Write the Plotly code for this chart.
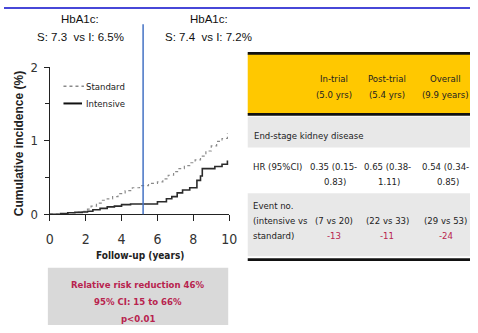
import plotly.graph_objects as go

W, H = 478, 333

# Cumulative incidence (%) of end-stage kidney disease by follow-up year
years_std = [0, 0.5, 1.0, 1.5, 1.9, 2.1, 2.3, 2.6, 2.9, 3.2, 3.5, 3.8, 4.2, 4.6, 5.0,
             5.5, 6.0, 6.3, 6.6, 6.9, 7.2, 7.5, 7.8, 8.1, 8.4, 8.7, 9.0, 9.3, 9.6, 9.9]
inc_std = [0, 0.01, 0.02, 0.03, 0.04, 0.07, 0.11, 0.15, 0.19, 0.21, 0.24, 0.28, 0.32, 0.36, 0.39,
           0.42, 0.44, 0.48, 0.53, 0.58, 0.62, 0.66, 0.70, 0.74, 0.79, 0.86, 0.93, 0.99, 1.03, 1.10]

years_int = [0, 0.6, 1.0, 1.4, 1.8, 2.1, 2.4, 2.8, 3.2, 3.6, 4.0, 4.5, 6.0, 6.5, 6.8,
             7.1, 7.4, 7.8, 8.2, 8.4, 8.5, 9.2, 9.6, 9.9]
inc_int = [0, 0.01, 0.02, 0.025, 0.03, 0.04, 0.06, 0.08, 0.10, 0.11, 0.13, 0.14, 0.17, 0.21, 0.24,
           0.29, 0.33, 0.36, 0.46, 0.52, 0.62, 0.65, 0.68, 0.73]

x_ticks = [0, 2, 4, 6, 8, 10]
y_ticks = [0, 1, 2]
in_trial_end = 5.2

hba1c_in_trial = ["HbA1c:", "S: 7.3  vs I: 6.5%"]
hba1c_post_trial = ["HbA1c:", "S: 7.4  vs I: 7.2%"]

# Summary table
col_heads = [("In-trial", "(5.0 yrs)"), ("Post-trial", "(5.4 yrs)"), ("Overall", "(9.9 years)")]
outcome = "End-stage kidney disease"
hr_label = "HR (95%CI)"
hr_values = [("0.35 (0.15-", "0.83)"), ("0.65 (0.38-", "1.11)"), ("0.54 (0.34-", "0.85)")]
event_label = ["Event no.", "(intensive vs", "standard)"]
events_intensive = [7, 22, 29]
events_standard = [20, 33, 53]

rrr_lines = ["Relative risk reduction 46%", "95% CI: 15 to 66%", "p<0.01"]

NARROW = "DejaVu Sans Condensed, Liberation Sans Narrow, sans-serif"
REGULAR = "Liberation Sans, Arial, sans-serif"
RED = "#b8234e"


def px(x):
    return x / W


def py(y):
    return 1 - y / H


fig = go.Figure()
fig.add_trace(go.Scatter(x=years_std, y=inc_std, mode="lines", line_shape="hv",
                         line=dict(color="#8a8a8a", width=1.2, dash="dot"),
                         name="Standard", showlegend=False))
fig.add_trace(go.Scatter(x=years_int, y=inc_int, mode="lines", line_shape="hv",
                         line=dict(color="#2b2b2b", width=1.6),
                         name="Intensive", showlegend=False))

shapes = []
ann = []


def text(x, y, s, size=9.5, color="#222", family=NARROW, xanchor="center", **kw):
    ann.append(dict(x=px(x), y=py(y), xref="paper", yref="paper", text=s, showarrow=False,
                    xanchor=xanchor, yanchor="middle",
                    font=dict(size=size, color=color, family=family), **kw))


def rect(x0, y0, x1, y1, color):
    shapes.append(dict(type="rect", xref="paper", yref="paper", x0=px(x0), x1=px(x1),
                       y0=py(y1), y1=py(y0), fillcolor=color, line=dict(width=0), layer="below"))


# top rule
rect(0, 0, W, 2, "#4747d8")

# HbA1c annotations
text(78, 13, hba1c_in_trial[0], size=11.5, color="#111", family=REGULAR)
text(78, 31, hba1c_in_trial[1], size=11.5, color="#111", family=REGULAR)
text(210, 13, hba1c_post_trial[0], size=11.5, color="#111", family=REGULAR)
text(210, 31, hba1c_post_trial[1], size=11.5, color="#111", family=REGULAR)

# in-trial / post-trial boundary
shapes.append(dict(type="line", xref="x", yref="paper", x0=in_trial_end, x1=in_trial_end,
                   y0=py(217), y1=py(18), line=dict(color="#4472c4", width=1.5)))

# legend
shapes.append(dict(type="line", xref="paper", yref="paper", x0=px(61), x1=px(82),
                   y0=py(83), y1=py(83), line=dict(color="#8a8a8a", width=1.5, dash="dot")))
shapes.append(dict(type="line", xref="paper", yref="paper", x0=px(61), x1=px(80),
                   y0=py(101), y1=py(101), line=dict(color="#111", width=2)))
text(82, 83, "Standard", size=9.5, xanchor="left")
text(82, 101, "Intensive", size=9.5, xanchor="left")

# axis titles
text(15, 143, "<b>Cumulative incidence (%)</b>", size=12, family=REGULAR, textangle=-90)
text(139, 260, "<b>Follow-up (years)</b>", size=10)

# table
rect(250, 49, W, 112, "#ffc800")
rect(250, 47, W, 50, "#111")
rect(250, 111, W, 114, "#111")
rect(250, 115, W, 147, "#e8e8e8")
rect(250, 195, W, 261, "#e8e8e8")
rect(250, 263, W, 266, "#111")

col_x = [338, 393, 453]
for cx, (a, b) in zip(col_x, col_heads):
    text(cx, 75, a)
    text(cx, 92, b)
text(254, 135, outcome, xanchor="left")
text(253, 167, hr_label, xanchor="left")
for cx, (a, b) in zip(col_x, hr_values):
    text(cx, 167, a)
    text(cx + 2, 183, b)
for i, s in enumerate(event_label):
    text(253, 208 + 15.5 * i, s, xanchor="left")
for cx, ni, ns in zip(col_x, events_intensive, events_standard):
    text(cx, 224, f"({ni} vs {ns})")
    text(cx, 239, f"{ni - ns}", color=RED)

# relative risk box
rect(45, 273, 230, H, "#d9d9d9")
for i, s in enumerate(rrr_lines):
    text(137, 291 + 17.5 * i, f"<b>{s}</b>", size=9.5, color=RED)

fig.update_layout(
    width=W, height=H, autosize=False,
    margin=dict(l=0, r=0, t=0, b=0),
    paper_bgcolor="white", plot_bgcolor="white",
    shapes=shapes, annotations=ann,
    xaxis=dict(domain=[px(47), px(231)], range=[0, 10], tickvals=x_ticks,
               showline=True, linecolor="#222", linewidth=1.3, ticks="outside",
               ticklen=6, tickcolor="#222", showgrid=False, zeroline=False,
               ticklabelstandoff=6,
               tickfont=dict(size=14, color="#333", family=NARROW)),
    yaxis=dict(domain=[py(217), py(63)], range=[0, 2], tickvals=y_ticks,
               showline=True, linecolor="#222", linewidth=1.3, ticks="outside",
               ticklen=5, tickcolor="#222", showgrid=False, zeroline=False,
               ticklabelstandoff=3,
               minor=dict(dtick=0.5, ticks="outside", ticklen=4, tickcolor="#222"),
               tickfont=dict(size=13, color="#333", family=NARROW)),
)

fig.write_html("out.html")
